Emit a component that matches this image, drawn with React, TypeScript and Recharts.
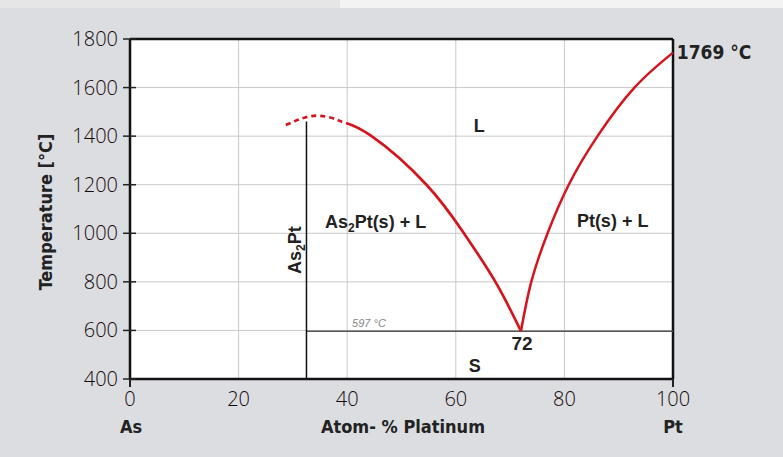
import React from 'react';
import {
  ComposedChart,
  Line,
  XAxis,
  YAxis,
  CartesianGrid,
  ReferenceLine,
  ReferenceDot,
} from 'recharts';

// As–Pt phase diagram
const xTicks = [0, 20, 40, 60, 80, 100];
const yTicks = [400, 600, 800, 1000, 1200, 1400, 1600, 1800];

// liquidus, uncertain part near As2Pt (drawn dashed)
const liquidusDashed = [
  { x: 28.7, y: 1446 },
  { x: 31.7, y: 1473 },
  { x: 34.8, y: 1484 },
  { x: 37.9, y: 1470 },
  { x: 39.2, y: 1458 },
];

// liquidus As2Pt side
const liquidusSolid = [
  { x: 44.5, y: 1400 },
  { x: 54.6, y: 1200 },
  { x: 61.5, y: 1000 },
  { x: 67.3, y: 800 },
  { x: 72.0, y: 597 },
];

// liquidus Pt side
const liquidusRight = [
  { x: 72.0, y: 597 },
  { x: 73.9, y: 800 },
  { x: 76.9, y: 1000 },
  { x: 80.8, y: 1200 },
  { x: 86.1, y: 1400 },
  { x: 92.9, y: 1600 },
  { x: 100, y: 1744 },
];

// one spline so the dashed/solid join stays smooth
const liquidusLeft = [...liquidusDashed, ...liquidusSolid];

const eutecticT = 597;
const eutecticX = 72;
const compoundX = 32.5;
const compoundTop = 1460;

const RED = '#d7141e';
const TICK_FONT = "'Open Sans', sans-serif";
const TITLE_FONT = "'DejaVu Sans Condensed', 'DejaVu Sans', sans-serif";
const NOTE_FONT = "'Liberation Sans', Arial, sans-serif";

// 7 dashes over the uncertain part, then solid
const leftDash = [...Array(7).fill('5 4'), '2000'].join(' ');

const YTick = (props: any) => {
  const { x, y, payload } = props;
  return (
    <g>
      <line x1={x - 7} x2={x + 6} y1={y} y2={y} stroke="#222" strokeWidth={1.5} />
      <text
        x={x - 12}
        y={y}
        dy="0.35em"
        textAnchor="end"
        fontFamily={TICK_FONT}
        fontWeight={300}
        fontSize={20}
        fill="#140a0a"
      >
        {payload.value}
      </text>
    </g>
  );
};

const XTick = (props: any) => {
  const { x, y, payload } = props;
  const edge = payload.value === 0 || payload.value === 100;
  return (
    <g>
      {edge && <line x1={x} x2={x} y1={y} y2={y + 8} stroke="#222" strokeWidth={2} />}
      <text
        x={x}
        y={y + 20}
        dy="0.35em"
        textAnchor="middle"
        fontFamily={TICK_FONT}
        fontWeight={300}
        fontSize={20}
        fill="#140a0a"
      >
        {payload.value}
      </text>
    </g>
  );
};

const note =
  (content: React.ReactNode, extra: any = {}) =>
  (props: any) => {
    const { viewBox } = props;
    return (
      <text
        x={viewBox.x}
        y={viewBox.y}
        fontFamily={NOTE_FONT}
        fontWeight={700}
        fontSize={18}
        fill="#222"
        {...extra}
      >
        {content}
      </text>
    );
  };

export default function App() {
  return (
    <div
      style={{
        position: 'absolute',
        left: 0,
        top: 0,
        width: 783,
        height: 457,
        background: '#dcdde0',
        overflow: 'hidden',
      }}
    >
      <div style={{ position: 'absolute', left: 0, top: 0, width: 340, height: 8, background: '#e6e6e6' }} />
      <div style={{ position: 'absolute', left: 340, top: 0, width: 443, height: 8, background: '#f3f3f3' }} />
      <ComposedChart
        width={783}
        height={457}
        margin={{ top: 39, right: 110, bottom: 48, left: 70 }}
      >
        <CartesianGrid
          stroke="#c9c9c9"
          strokeWidth={1}
          fill="#ffffff"
          fillOpacity={1}
          horizontalValues={yTicks}
          verticalValues={xTicks}
        />
        <XAxis
          type="number"
          dataKey="x"
          domain={[0, 100]}
          ticks={xTicks}
          interval={0}
          height={30}
          tickSize={0}
          tickMargin={0}
          tick={<XTick />}
          axisLine={{ stroke: '#111', strokeWidth: 2.5 }}
          tickLine={false}
        />
        <YAxis
          type="number"
          dataKey="y"
          domain={[400, 1800]}
          ticks={yTicks}
          interval={0}
          width={60}
          tickSize={0}
          tickMargin={0}
          tick={<YTick />}
          axisLine={{ stroke: '#111', strokeWidth: 2.5 }}
          tickLine={false}
        />

        <ReferenceLine y={1800} stroke="#111" strokeWidth={2.5} />
        <ReferenceLine x={100} stroke="#111" strokeWidth={2.5} />

        <ReferenceLine
          segment={[
            { x: compoundX, y: eutecticT },
            { x: 100, y: eutecticT },
          ]}
          stroke="#555"
          strokeWidth={1.5}
        />
        <ReferenceLine
          segment={[
            { x: compoundX, y: 400 },
            { x: compoundX, y: compoundTop },
          ]}
          stroke="#111"
          strokeWidth={1.5}
        />

        <Line
          data={liquidusLeft}
          dataKey="y"
          type="natural"
          stroke={RED}
          strokeWidth={2.7}
          strokeDasharray={leftDash}
          dot={false}
          activeDot={false}
          isAnimationActive={false}
        />
        <Line
          data={liquidusRight}
          dataKey="y"
          type="natural"
          stroke={RED}
          strokeWidth={2.5}
          dot={false}
          activeDot={false}
          isAnimationActive={false}
        />

        <ReferenceDot x={64.3} y={1417} r={0} fill="none" stroke="none" label={note('L', { textAnchor: 'middle' })} />
        <ReferenceDot
          x={35.9}
          y={1022}
          r={0}
          fill="none"
          stroke="none"
          label={note(
            <>
              <tspan>As</tspan>
              <tspan fontSize={12} dy={4}>2</tspan>
              <tspan dy={-4}>Pt(s) + L</tspan>
            </>,
          )}
        />
        <ReferenceDot x={82.3} y={1026} r={0} fill="none" stroke="none" label={note('Pt(s) + L')} />
        <ReferenceDot
          x={eutecticX + 0.2}
          y={519}
          r={0}
          fill="none"
          stroke="none"
          label={note(String(eutecticX), { textAnchor: 'middle', fontSize: 19 })}
        />
        <ReferenceDot x={63.5} y={429} r={0} fill="none" stroke="none" label={note('S', { textAnchor: 'middle' })} />
        <ReferenceDot
          x={40.9}
          y={614}
          r={0}
          fill="none"
          stroke="none"
          label={note(`${eutecticT} °C`, {
            fontSize: 11,
            fontWeight: 400,
            fontStyle: 'italic',
            fill: '#888',
          })}
        />
        <ReferenceDot
          x={100.7}
          y={1718}
          r={0}
          fill="none"
          stroke="none"
          ifOverflow="visible"
          label={note('1769 °C', { fontFamily: TITLE_FONT, fontSize: 19 })}
        />
        <ReferenceDot
          x={30.4}
          y={931}
          r={0}
          fill="none"
          stroke="none"
          label={(p: any) => (
            <text
              x={p.viewBox.x}
              y={p.viewBox.y}
              transform={`rotate(-90 ${p.viewBox.x} ${p.viewBox.y})`}
              textAnchor="middle"
              dy="0.35em"
              fontFamily={NOTE_FONT}
              fontWeight={700}
              fontSize={18}
              fill="#222"
            >
              <tspan>As</tspan>
              <tspan fontSize={12} dy={4}>2</tspan>
              <tspan dy={-4}>Pt</tspan>
            </text>
          )}
        />
        {/* axis titles */}
        <ReferenceDot
          x={50}
          y={1100}
          r={0}
          fill="none"
          stroke="none"
          label={() => (
            <g fontFamily={TITLE_FONT} fontWeight={700} fontSize={18} fill="#222">
              <text x={46} y={212} textAnchor="middle" dy="0.35em" transform="rotate(-90 46 212)">
                Temperature [°C]
              </text>
              <text x={131} y={433} textAnchor="middle">As</text>
              <text x={403} y={433} textAnchor="middle">Atom- % Platinum</text>
              <text x={673} y={433} textAnchor="middle">Pt</text>
            </g>
          )}
        />
      </ComposedChart>
    </div>
  );
}
